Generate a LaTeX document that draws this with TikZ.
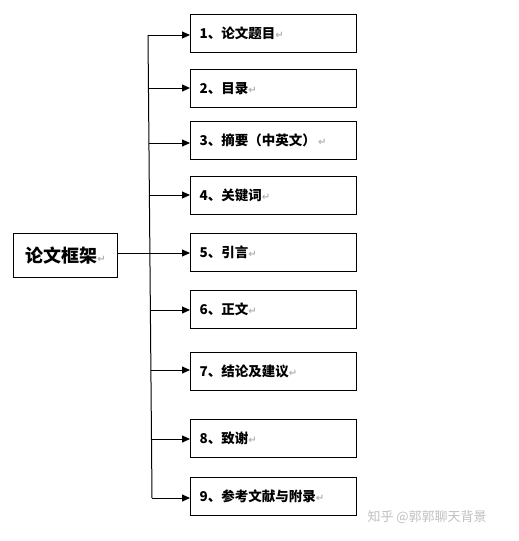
\documentclass[tikz,border=0pt]{standalone}
\usepackage{fontspec}
\setmainfont{Noto Sans CJK SC}
\newfontfamily\symfont{DejaVu Sans}
\usetikzlibrary{arrows.meta}
\newcommand{\retmark}{{\symfont\fontsize{10}{10}\selectfont\textcolor{black!30}{↵}}}
\begin{document}
\begin{tikzpicture}[x=1pt,y=-1pt,
  item/.style={draw=black,line width=1.2pt,minimum width=166pt,minimum height=38pt,
    text width=148pt,inner xsep=9pt,align=left,anchor=north west,
    font=\fontsize{13.5}{14}\selectfont\bfseries},
  mainbox/.style={draw=black,line width=1.2pt,minimum width=104pt,minimum height=44pt,
    anchor=north west,font=\fontsize{18}{20}\selectfont\bfseries},
  arr/.style={line width=1pt,-{Triangle[length=8pt,width=7pt]}},
  trunk/.style={line width=1pt}]
\useasboundingbox (0,0) rectangle (519,541);
\node[mainbox] (m) at (13,233) {论文框架\retmark};
\node[item] (b1) at (190,14) {1、论文题目\retmark};
\node[item] (b2) at (190,69) {2、目录\retmark};
\node[item] (b3) at (190,121) {3、摘要（中英文）\,\retmark};
\node[item] (b4) at (190,176) {4、关键词\retmark};
\node[item] (b5) at (190,233) {5、引言\retmark};
\node[item] (b6) at (190,290) {6、正文\retmark};
\node[item] (b7) at (190,352) {7、结论及建议\retmark};
\node[item] (b8) at (190,419) {8、致谢\retmark};
\node[item] (b9) at (190,477) {9、参考文献与附录\retmark};
\coordinate (v1) at (148,35);
\coordinate (v2) at (148.5,88);
\coordinate (v3) at (149,143);
\coordinate (v4) at (149.4,195);
\coordinate (v6) at (150.4,310);
\coordinate (v7) at (150.9,370);
\coordinate (v8) at (151.5,439);
\coordinate (v9) at (152,498);
\draw[trunk] (v1) -- (v9);
\foreach \i in {1,2,3,4,6,7,8,9} {
  \draw[arr] (v\i) -- (v\i -| b\i.west);
}
\coordinate (m5) at (117,253);
\draw[arr] (m5) -- (m5 -| b5.west);
\node[text=black!25,font=\fontsize{13}{14}\selectfont,anchor=west] (wm) at (364,517) {知乎 @郭郭聊天背景};
\end{tikzpicture}
\end{document}
